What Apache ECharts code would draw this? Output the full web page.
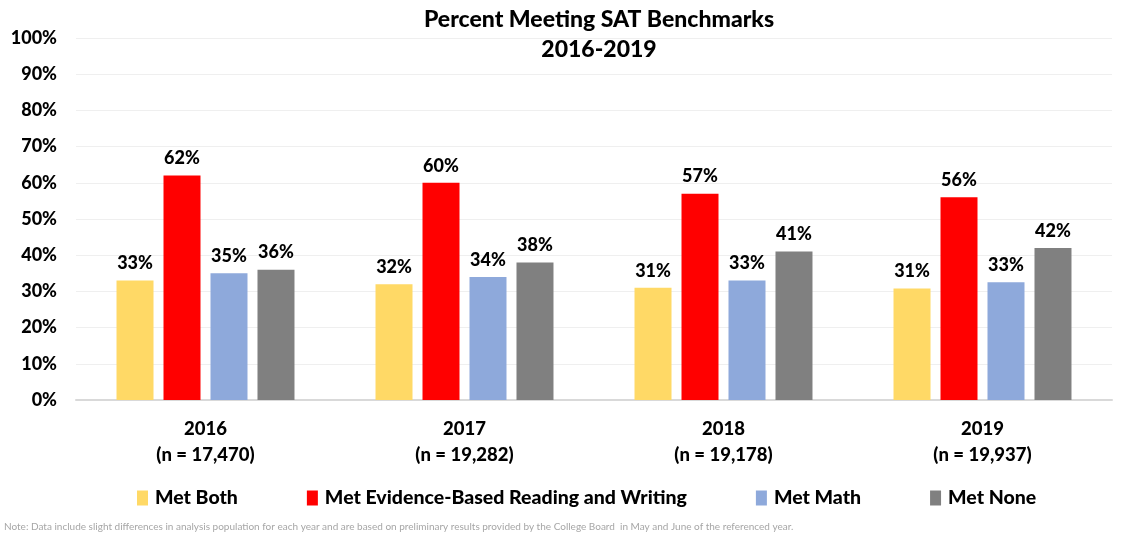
<!DOCTYPE html>
<html>
<head>
<meta charset="utf-8">
<script src="https://cdn.jsdelivr.net/npm/echarts@6/dist/echarts.min.js"></script>
<style>
  html, body { margin: 0; padding: 0; background: #fff; }
  #chart { width: 1125px; height: 535px; }
</style>
</head>
<body>
<div id="chart"></div>
<script>
// 数据
var years = ["2016", "2017", "2018", "2019"];
var counts = ["17,470", "19,282", "19,178", "19,937"];
var seriesNames = ["Met Both", "Met Evidence-Based Reading and Writing", "Met Math", "Met None"];
var metBoth = [33, 32, 31, 30.8];
var metEbrw = [62, 60, 57, 56];
var metMath = [35, 34, 33, 32.5];
var metNone = [36, 38, 41, 42];
var yTicks = [0, 10, 20, 30, 40, 50, 60, 70, 80, 90, 100];

(function () {
  var myChart = echarts.init(document.getElementById("chart"));
  var font = "Lato, 'Open Sans', sans-serif";
  var colors = ["#FFD966", "#FF0000", "#8EA9DB", "#808080"];
  var values = [metBoth, metEbrw, metMath, metNone];

  var series = seriesNames.map(function (name, i) {
    return {
      name: name,
      type: "bar",
      barWidth: 37,
      barGap: "27%",
      data: values[i],
      itemStyle: { color: colors[i] },
      label: {
        show: true,
        position: "top",
        distance: 8,
        color: "#000",
        fontFamily: font,
        fontWeight: 900,
        fontSize: 18,
        formatter: function (p) { return Math.round(p.value) + "%"; }
      }
    };
  });

  var option = {
    animation: false,
    color: colors,
    title: {
      text: "Percent Meeting SAT Benchmarks\n2016-2019",
      left: 594,
      textAlign: "center",
      top: 0,
      textStyle: {
        fontFamily: font,
        fontWeight: 900,
        fontSize: 23,
        lineHeight: 30,
        color: "#000"
      }
    },
    legend: {
      bottom: 22,
      left: 132,
      itemGap: 69,
      itemWidth: 11,
      itemHeight: 15,
      icon: "rect",
      textStyle: {
        fontFamily: font,
        fontWeight: 900,
        fontSize: 19.5,
        padding: [0, 0, 0, 2],
        color: "#000"
      },
      data: seriesNames
    },
    grid: {
      left: 76,
      right: 13,
      top: 38,
      bottom: 135
    },
    xAxis: {
      type: "category",
      data: years,
      axisTick: { show: false },
      axisLine: { lineStyle: { color: "#d9d9d9", width: 2 } },
      axisLabel: {
        margin: 16,
        color: "#000",
        fontFamily: font,
        fontWeight: 900,
        fontSize: 18.5,
        lineHeight: 26,
        formatter: function (v, i) { return v + "\n(n = " + counts[i] + ")"; }
      }
    },
    yAxis: {
      type: "value",
      min: yTicks[0],
      max: yTicks[yTicks.length - 1],
      interval: 10,
      axisLine: { show: false },
      axisTick: { show: false },
      axisLabel: {
        margin: 19,
        color: "#000",
        fontFamily: font,
        fontWeight: 900,
        fontSize: 18,
        formatter: "{value}%"
      },
      splitLine: { lineStyle: { color: "#efefef" } }
    },
    graphic: [{
      type: "text",
      left: 4,
      bottom: 3,
      style: {
        text: "Note: Data include slight differences in analysis population for each year and are based on preliminary results provided by the College Board  in May and June of the referenced year.",
        fontFamily: font,
        fontSize: 10,
        fill: "#a6a6a6"
      }
    }],
    series: series
  };
  myChart.setOption(option);
  //图表自适应
  window.addEventListener("resize", function () {
    myChart.resize();
  });
})();
</script>
</body>
</html>
